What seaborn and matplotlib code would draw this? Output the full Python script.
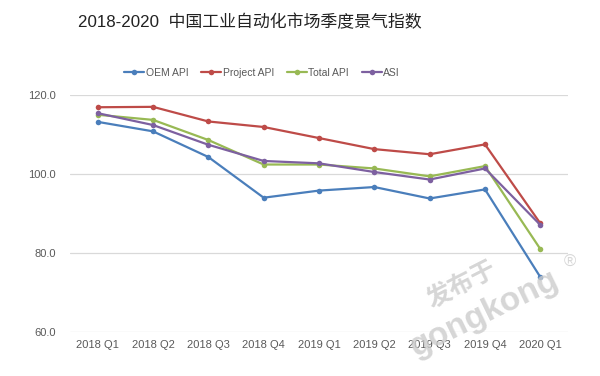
import matplotlib
matplotlib.use("Agg")
import matplotlib.pyplot as plt
import pandas as pd
import seaborn as sns

QUARTERS = ["2018 Q1", "2018 Q2", "2018 Q3", "2018 Q4", "2019 Q1",
            "2019 Q2", "2019 Q3", "2019 Q4", "2020 Q1"]
OEM_API = [113.2, 110.8, 104.3, 94.0, 95.8, 96.7, 93.8, 96.1, 73.9]
PROJECT_API = [116.9, 117.0, 113.3, 111.9, 109.1, 106.3, 105.0, 107.5, 87.5]
TOTAL_API = [115.0, 113.7, 108.6, 102.4, 102.4, 101.4, 99.4, 102.0, 81.0]
ASI = [115.4, 112.4, 107.4, 103.3, 102.7, 100.5, 98.6, 101.4, 87.1]

SERIES = {
    "OEM API": OEM_API,
    "Project API": PROJECT_API,
    "Total API": TOTAL_API,
    "ASI": ASI,
}
PALETTE = {
    "OEM API": "#4a7ebb",
    "Project API": "#be4b48",
    "Total API": "#98b954",
    "ASI": "#7d60a0",
}

df = pd.concat(
    [pd.DataFrame({"quarter": QUARTERS, "value": vals, "series": name})
     for name, vals in SERIES.items()],
    ignore_index=True,
)
df["x"] = df["quarter"].map({q: i for i, q in enumerate(QUARTERS)})

sns.set_style("white")
plt.rcParams["font.family"] = ["Liberation Sans", "Noto Sans CJK SC", "DejaVu Sans"]

fig = plt.figure(figsize=(6.0, 3.76), dpi=100)
ax = fig.add_axes([70 / 600, 1 - 332 / 376, 498 / 600, 237 / 376])

sns.lineplot(
    data=df, x="x", y="value", hue="series", palette=PALETTE,
    marker="o", markersize=4, markeredgewidth=0, linewidth=1.6,
    ax=ax, legend=True,
)

ax.set_xlim(-0.5, len(QUARTERS) - 0.5)
ax.set_ylim(60, 120)
ax.set_yticks([60, 80, 100, 120])
ax.set_yticklabels([f"{v:.1f}" for v in [60, 80, 100, 120]])
ax.set_xticks(range(len(QUARTERS)))
ax.set_xticklabels(QUARTERS)
ax.set_xlabel("")
ax.set_ylabel("")
ax.tick_params(axis="both", length=0, labelsize=8, colors="#595959")
ax.tick_params(axis="y", pad=10)
ax.tick_params(axis="x", pad=6)
ax.grid(axis="y", color="#d9d9d9", linewidth=0.9)
ax.set_axisbelow(True)
for s in ax.spines.values():
    s.set_visible(False)

handles, labels = ax.get_legend_handles_labels()
ax.legend(handles, labels, loc="center", bbox_to_anchor=(262 / 600, 1 - 73 / 376),
          bbox_transform=fig.transFigure, ncol=4, frameon=False, fontsize=7.5,
          handlelength=1.9, handletextpad=0.15, columnspacing=1.25,
          labelcolor="#595959")

fig.text(250 / 600, 1 - 22 / 376, "2018-2020  中国工业自动化市场季度景气指数",
         ha="center", va="center", fontsize=12.2, color="#222222",
         family=["Liberation Sans", "Noto Sans CJK SC"])

# watermark
fig.text(462 / 600, 1 - 285 / 376, "发布于", ha="center", va="center",
         fontsize=18, color="#cccccc", rotation=27, family=["Noto Sans CJK SC"],
         fontweight="bold", alpha=0.8)
fig.text(484 / 600, 1 - 314 / 376, "gongkong", ha="center", va="center",
         fontsize=24, color="#cccccc", rotation=26, fontweight="bold", alpha=0.8)
fig.text(570 / 600, 1 - 262 / 376, "®", ha="center", va="center",
         fontsize=12, color="#cccccc", alpha=0.8)

fig.savefig("out.png", dpi=100, facecolor="white")
